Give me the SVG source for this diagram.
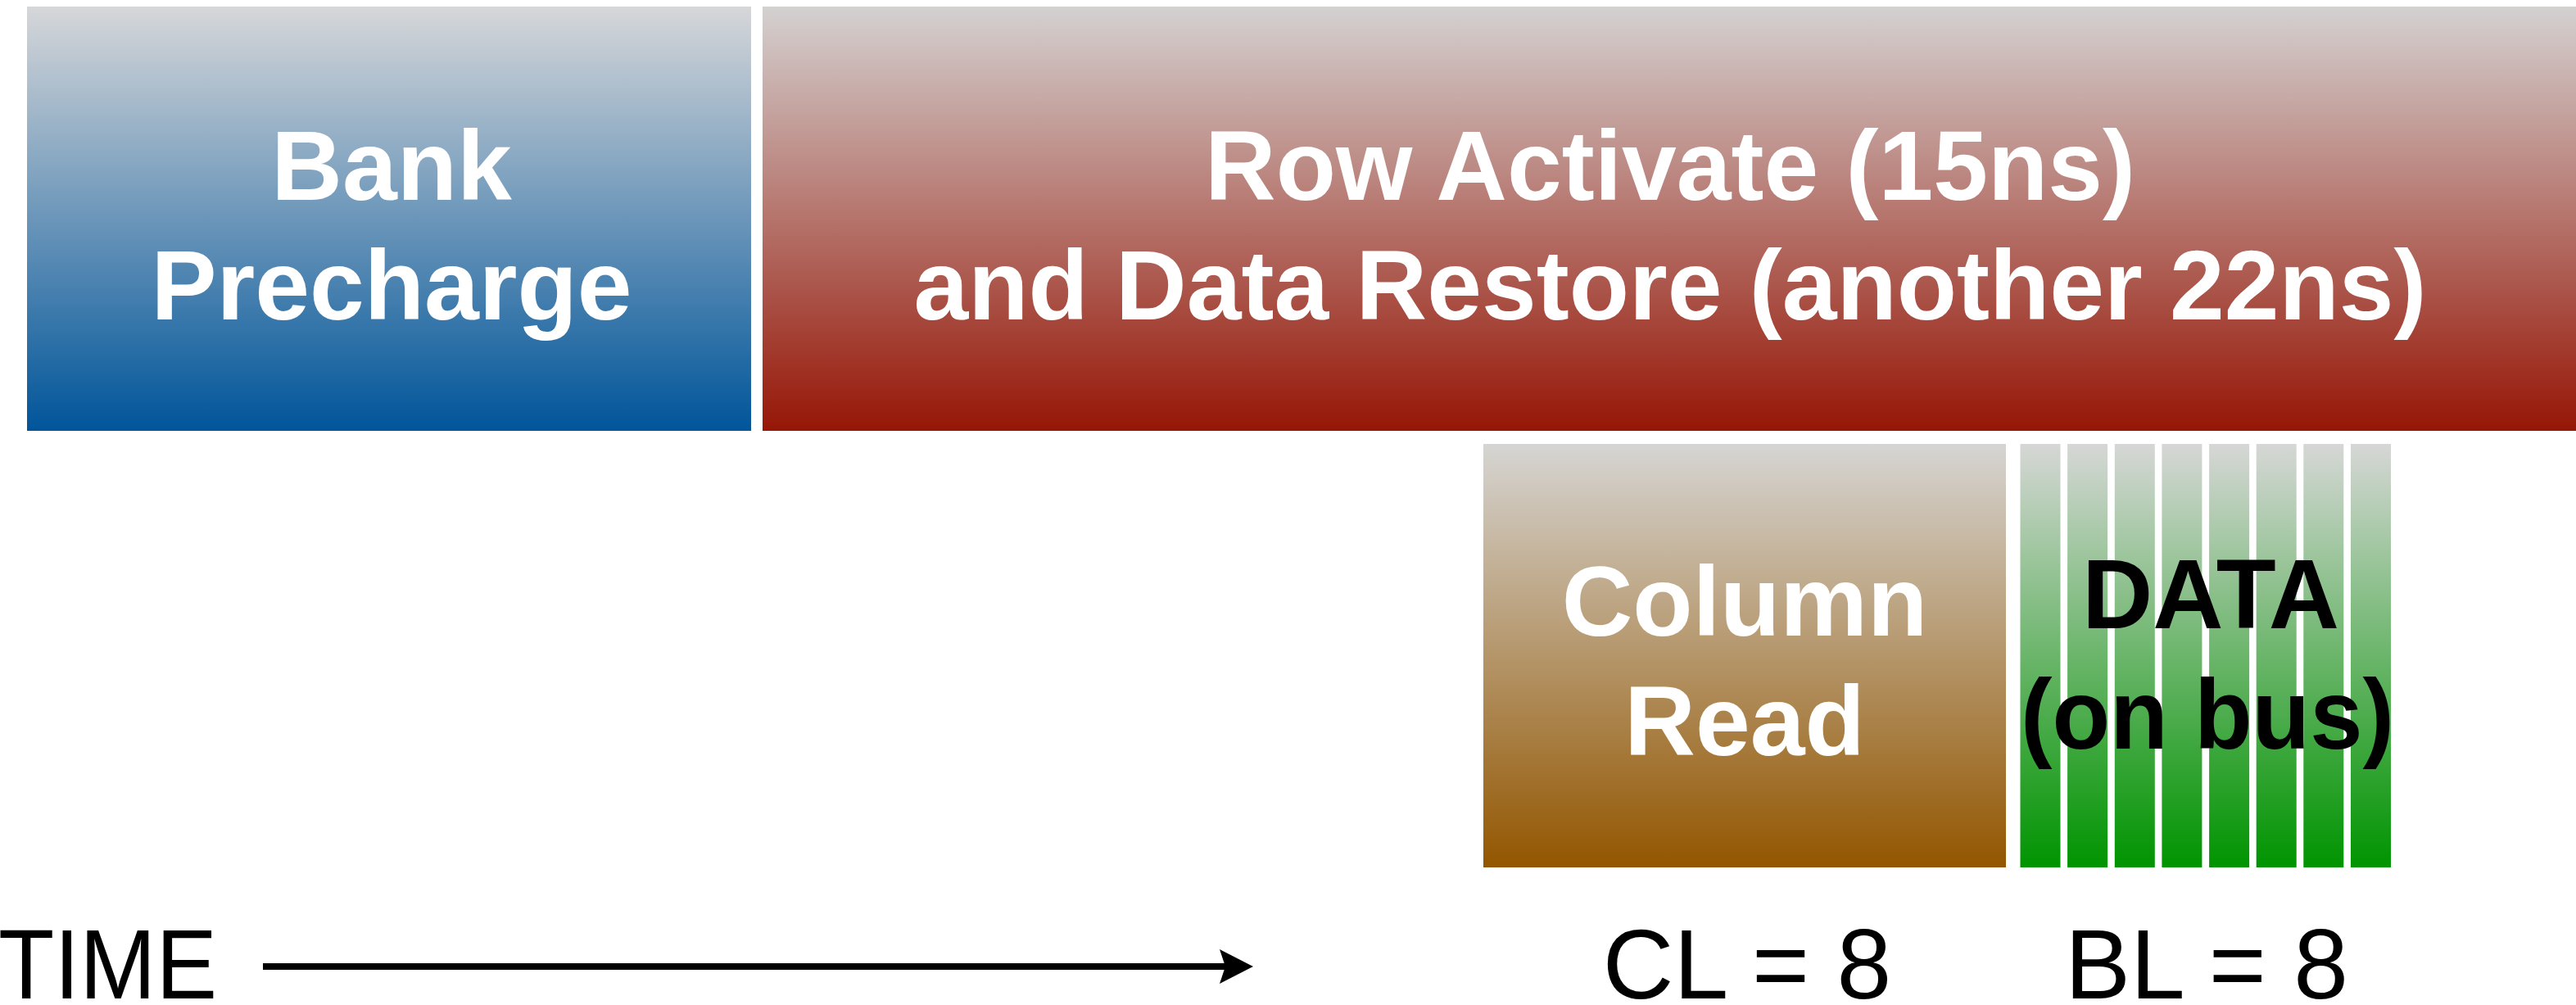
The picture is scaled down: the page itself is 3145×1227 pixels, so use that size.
<svg xmlns="http://www.w3.org/2000/svg" width="3145" height="1227" viewBox="0 0 3145 1227">
  <defs>
    <linearGradient id="gBlue" x1="0" y1="0" x2="0" y2="1">
      <stop offset="0" stop-color="#d6d7d9"/>
      <stop offset="1" stop-color="#00559a"/>
    </linearGradient>
    <linearGradient id="gRed" x1="0" y1="0" x2="0" y2="1">
      <stop offset="0" stop-color="#d4d1d1"/>
      <stop offset="1" stop-color="#961606"/>
    </linearGradient>
    <linearGradient id="gBrown" x1="0" y1="0" x2="0" y2="1">
      <stop offset="0" stop-color="#d6d5d3"/>
      <stop offset="1" stop-color="#935600"/>
    </linearGradient>
    <linearGradient id="gGreen" x1="0" y1="0" x2="0" y2="1">
      <stop offset="0" stop-color="#d6d7d6"/>
      <stop offset="1" stop-color="#009400"/>
    </linearGradient>
  </defs>
  <style>
    .title { font-family: "Liberation Sans", Arial, sans-serif; font-weight: bold; font-size: 120px; text-anchor: middle; fill: #ffffff; }
    .dark { fill: #000000; }
    .label { font-family: "Liberation Sans", Arial, sans-serif; font-size: 120px; fill: #000000; }
    .bar { fill: url(#gGreen); }
  </style>
  <rect width="3145" height="1227" fill="#ffffff"/>

  <g id="bank-precharge">
    <rect x="33" y="8" width="884" height="518" fill="url(#gBlue)"/>
    <text class="title" x="478" y="244">Bank</text>
    <text class="title" x="478" y="390">Precharge</text>
  </g>

  <g id="row-activate">
    <rect x="931" y="8" width="2214" height="518" fill="url(#gRed)"/>
    <text class="title" x="2039" y="244">Row Activate (15ns)</text>
    <text class="title" x="2039" y="390">and Data Restore (another 22ns)</text>
  </g>

  <g id="column-read">
    <rect x="1811" y="542" width="638" height="517" fill="url(#gBrown)"/>
    <text class="title" x="2130" y="776">Column</text>
    <text class="title" x="2130" y="922">Read</text>
  </g>

  <g id="data-bus">
    <rect class="bar" x="2466.5" y="542" width="49" height="517"/>
    <rect class="bar" x="2524.1" y="542" width="49" height="517"/>
    <rect class="bar" x="2581.8" y="542" width="49" height="517"/>
    <rect class="bar" x="2639.4" y="542" width="49" height="517"/>
    <rect class="bar" x="2697.1" y="542" width="49" height="517"/>
    <rect class="bar" x="2754.7" y="542" width="49" height="517"/>
    <rect class="bar" x="2812.3" y="542" width="49" height="517"/>
    <rect class="bar" x="2870" y="542" width="49" height="517"/>
    <text class="title dark" x="2699" y="767" textLength="314" lengthAdjust="spacingAndGlyphs">DATA</text>
    <text class="title dark" x="2695" y="914" textLength="456" lengthAdjust="spacingAndGlyphs">(on bus)</text>
  </g>

  <g id="time-label">
    <text class="label" x="-2" y="1219" textLength="267" lengthAdjust="spacingAndGlyphs">TIME</text>
  </g>

  <g id="cl-label">
    <text class="label" x="2133" y="1219" text-anchor="middle">CL = 8</text>
  </g>

  <g id="bl-label">
    <text class="label" x="2694" y="1219" text-anchor="middle">BL = 8</text>
  </g>

  <g id="connectors">
    <line x1="321" y1="1180" x2="1498" y2="1180" stroke="#000000" stroke-width="8"/>
    <polygon points="1530,1180 1489,1159 1496,1180 1489,1201" fill="#000000"/>
  </g>
</svg>
